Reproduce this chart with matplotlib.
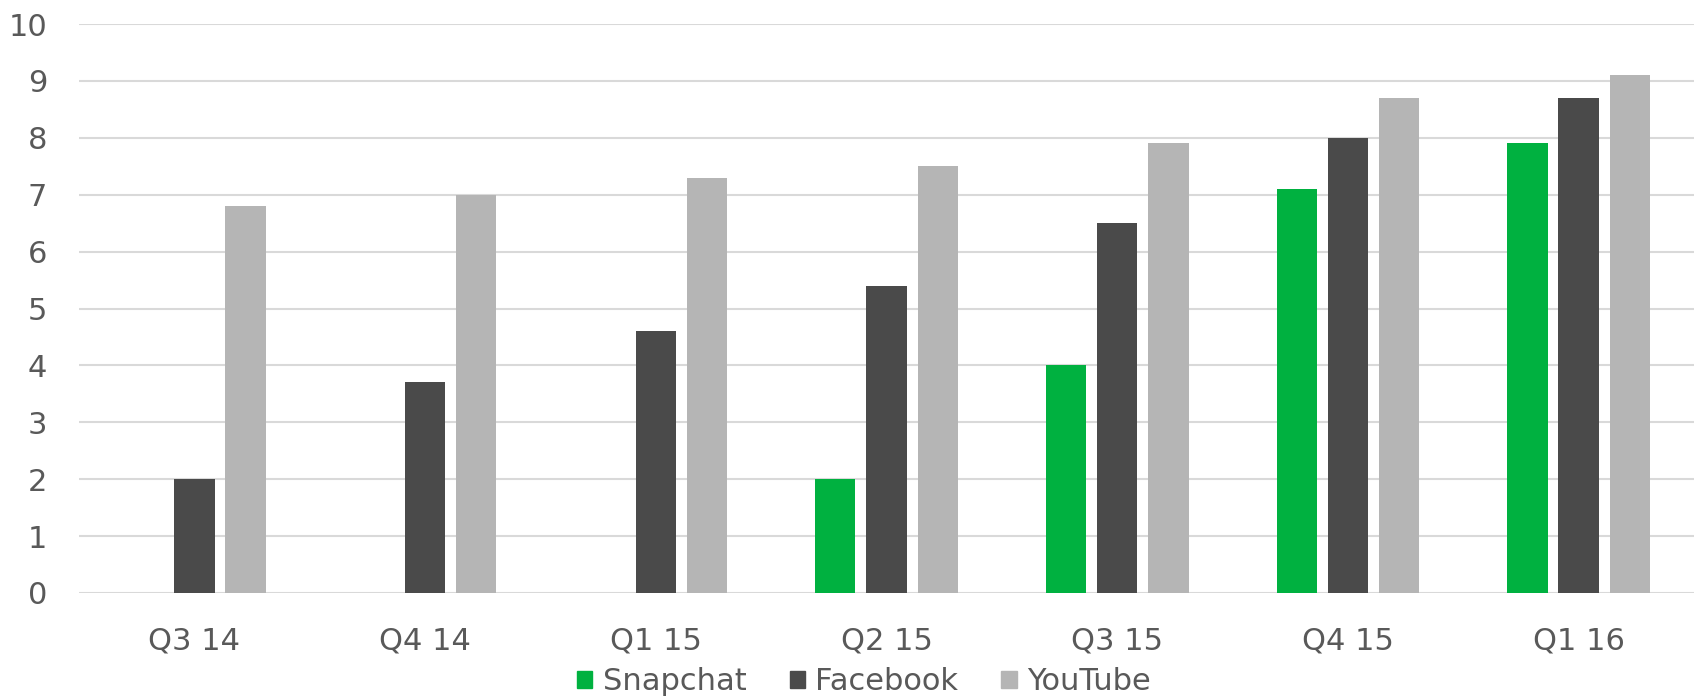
import numpy as np
import matplotlib.pyplot as plt
from matplotlib.patches import Patch

quarters = ['Q3 14', 'Q4 14', 'Q1 15', 'Q2 15', 'Q3 15', 'Q4 15', 'Q1 16']
snapchat = [0, 0, 0, 2.0, 4.0, 7.1, 7.9]
facebook = [2.0, 3.7, 4.6, 5.4, 6.5, 8.0, 8.7]
youtube = [6.8, 7.0, 7.3, 7.5, 7.9, 8.7, 9.1]

series = ['Snapchat', 'Facebook', 'YouTube']
colors = ['#00B140', '#4A4A4A', '#B5B5B5']
txt = '#595959'

plt.rcParams['font.family'] = ['DejaVu Sans']
fig = plt.figure(figsize=(16.98, 6.99), dpi=100)
ax = fig.add_axes([79 / 1698, 1 - 593 / 699, (1694 - 79) / 1698, (593 - 24) / 699])

x = np.arange(len(quarters))
step = 0.222
w = 0.175
for i, vals in enumerate([snapchat, facebook, youtube]):
    ax.bar(x + (i - 1) * step, vals, width=w, color=colors[i], zorder=3)

ax.set_xlim(-0.5, len(quarters) - 0.5)
ax.set_ylim(0, 10)
ax.set_yticks(range(0, 11))
ax.set_xticks(x)
ax.set_xticklabels(quarters)
ax.yaxis.grid(True, color='#D9D9D9', linewidth=1.5, zorder=0)
ax.set_axisbelow(True)
for s in ax.spines.values():
    s.set_visible(False)
ax.tick_params(axis='both', length=0, labelsize=22, colors=txt)
ax.tick_params(axis='y', pad=23)
ax.tick_params(axis='x', pad=24)

handles = [Patch(color=c) for c in colors]
fig.legend(handles, series, loc='center', bbox_to_anchor=(864 / 1698, 1 - 682 / 699),
           ncol=3, frameon=False, fontsize=22, labelcolor=txt,
           handlelength=0.5, handleheight=0.5, handletextpad=0.35, columnspacing=1.4,
           borderpad=0)

fig.savefig('out.png', dpi=100)
